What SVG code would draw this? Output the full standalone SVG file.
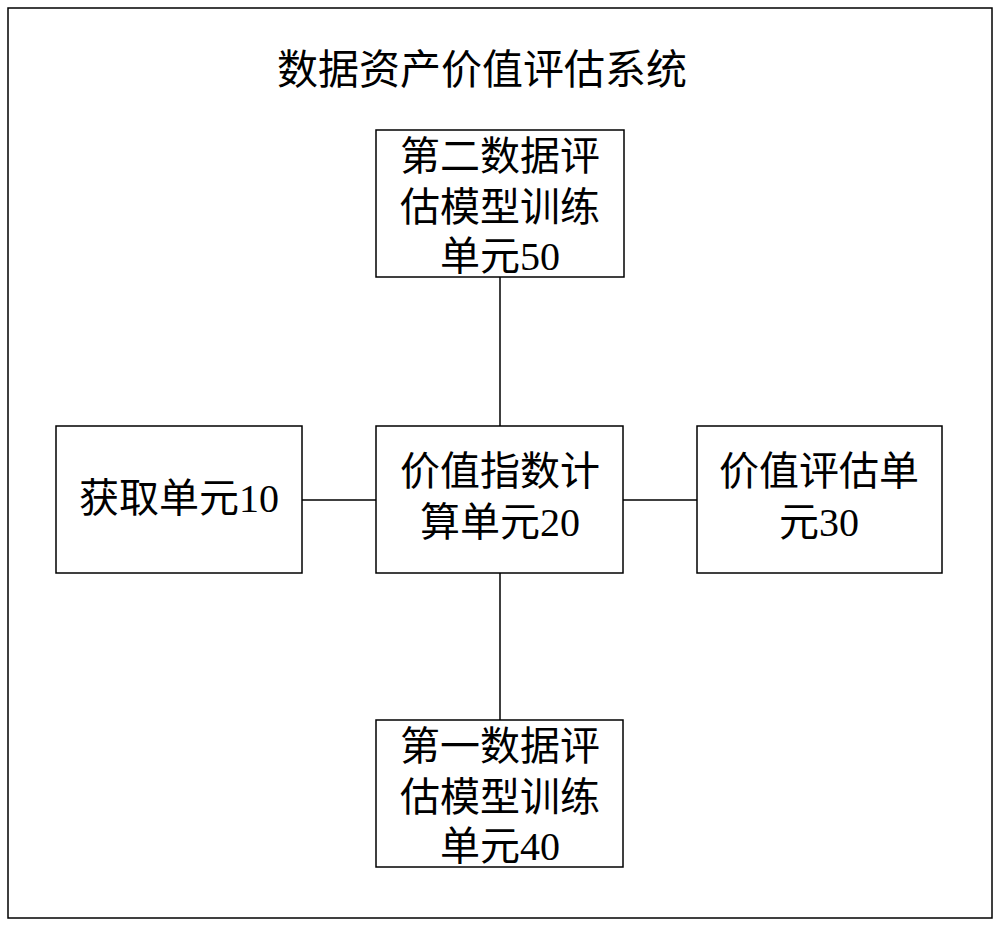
<svg xmlns="http://www.w3.org/2000/svg" width="1000" height="927" viewBox="0 0 1000 927">
<style>
rect{fill:#fff;stroke:#000;stroke-width:1.5}
text{font-family:"Liberation Serif","Noto Sans CJK SC",serif;font-size:40px;fill:#000;text-anchor:middle}
line{stroke:#000;stroke-width:1.5}
</style>
<rect x="8" y="8" width="984" height="910"/>
<text x="482" y="84" style="font-size:41px">数据资产价值评估系统</text>
<g id="connectors">
<line x1="500" y1="277" x2="500" y2="426"/>
<line x1="302" y1="500" x2="376" y2="500"/>
<line x1="623" y1="500" x2="697" y2="500"/>
<line x1="500" y1="573" x2="500" y2="720"/>
</g>
<g id="n50"><rect x="376" y="130" width="248" height="147"/>
<text x="500" y="170">第二数据评</text><text x="500" y="221">估模型训练</text><text x="500" y="270">单元50</text></g>
<g id="n20"><rect x="376" y="426" width="247" height="147"/>
<text x="500" y="485">价值指数计</text><text x="500" y="536">算单元20</text></g>
<g id="n10"><rect x="56" y="426" width="246" height="147"/>
<text x="179" y="512">获取单元10</text></g>
<g id="n30"><rect x="697" y="426" width="245" height="147"/>
<text x="819" y="485">价值评估单</text><text x="819" y="536">元30</text></g>
<g id="n40"><rect x="376" y="720" width="247" height="147"/>
<text x="500" y="760">第一数据评</text><text x="500" y="811">估模型训练</text><text x="500" y="860">单元40</text></g>
</svg>
